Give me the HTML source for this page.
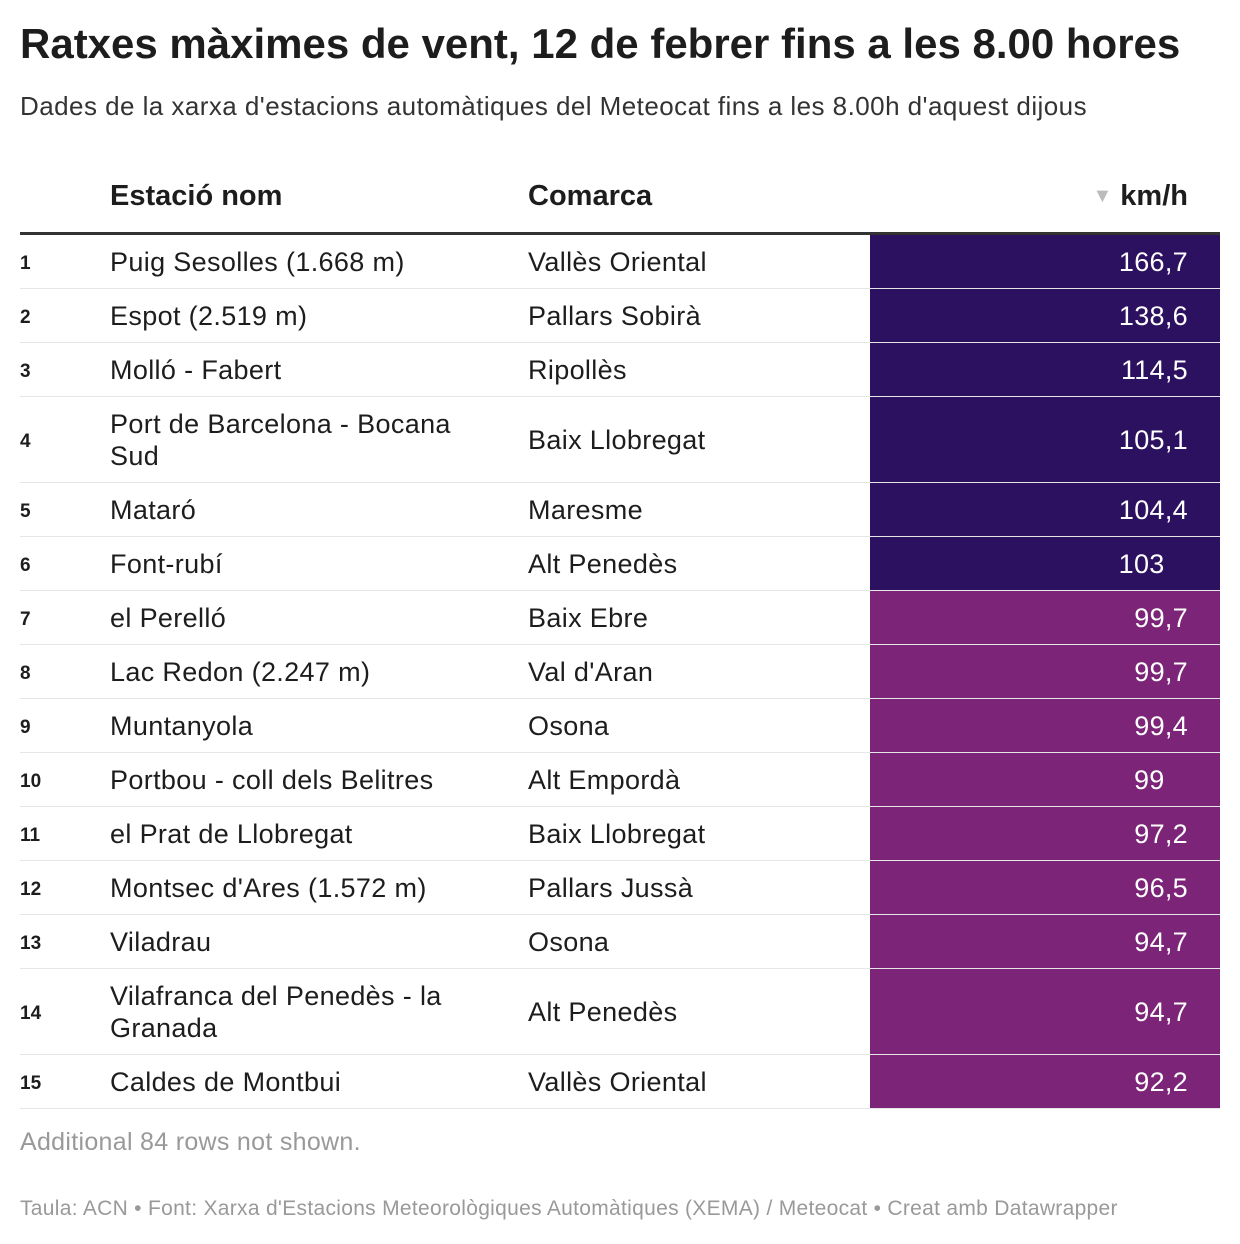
<!DOCTYPE html><html><head><meta charset="utf-8"><style>
body{margin:0;width:1240px;height:1244px;background:#fff;font-family:"Liberation Sans",Arial,sans-serif;color:#1d1d1d;position:relative;overflow:hidden}
.a{position:absolute;white-space:nowrap}
h1{position:absolute;left:20px;top:20px;margin:0;font-size:42px;font-weight:bold;letter-spacing:0px}
.sub{left:20px;top:91px;font-size:26px;letter-spacing:0.45px;color:#333}
.hd{top:180px;font-size:29px;font-weight:bold}
.row{position:absolute;left:20px;width:1200px;border-bottom:1px solid #e6e6e6;box-sizing:border-box}
.row .n{position:absolute;left:0;font-size:19px;font-weight:bold}
.row .s{position:absolute;left:90px;font-size:27px;letter-spacing:0.35px;line-height:32px;width:360px;white-space:normal}
.row .c{position:absolute;left:508px;font-size:27px;letter-spacing:0.35px}
.row .v{position:absolute;left:850px;width:350px;height:100%;box-sizing:border-box;padding-right:32px;text-align:right;color:#fff;font-size:27px;letter-spacing:0.3px}
</style></head><body>
<h1>Ratxes màximes de vent, 12 de febrer fins a les 8.00 hores</h1>
<div class="a sub">Dades de la xarxa d'estacions automàtiques del Meteocat fins a les 8.00h d'aquest dijous</div>
<div class="a hd" style="left:110px">Estació nom</div>
<div class="a hd" style="left:528px">Comarca</div>
<div class="a hd" style="right:52px"><span style="color:#bbb;font-size:20px;vertical-align:3px">▼</span> km/h</div>
<div class="a" style="left:20px;top:232px;width:1200px;height:3px;background:#333"></div>
<div id="t"></div>
<div class="a" style="left:20px;top:1128px;font-size:25px;letter-spacing:0.3px;color:#999">Additional 84 rows not shown.</div>
<div class="a" style="left:20px;top:1197px;font-size:21px;letter-spacing:0.3px;color:#999">Taula: ACN • Font: Xarxa d'Estacions Meteorològiques Automàtiques (XEMA) / Meteocat • Creat amb Datawrapper</div>
<script>
var d=[["Puig Sesolles (1.668 m)","Vallès Oriental","166,7"],["Espot (2.519 m)","Pallars Sobirà","138,6"],["Molló - Fabert","Ripollès","114,5"],["Port de Barcelona - Bocana Sud","Baix Llobregat","105,1"],["Mataró","Maresme","104,4"],["Font-rubí","Alt Penedès","103&nbsp;&nbsp;&nbsp;"],["el Perelló","Baix Ebre","99,7"],["Lac Redon (2.247 m)","Val d'Aran","99,7"],["Muntanyola","Osona","99,4"],["Portbou - coll dels Belitres","Alt Empordà","99&nbsp;&nbsp;&nbsp;"],["el Prat de Llobregat","Baix Llobregat","97,2"],["Montsec d'Ares (1.572 m)","Pallars Jussà","96,5"],["Viladrau","Osona","94,7"],["Vilafranca del Penedès - la Granada","Alt Penedès","94,7"],["Caldes de Montbui","Vallès Oriental","92,2"]];
var y=235,h="";
d.forEach(function(r,i){var H=(i==3||i==13)?86:54;var m=H/2;
var col=i<6?"#2c1160":"#7b2478";
h+='<div class="row" style="top:'+y+'px;height:'+H+'px"><span class="n" style="top:'+(m-9)+'px">'+(i+1)+'</span><span class="s" style="top:'+(H==54?m-16:m-32)+'px">'+r[0]+'</span><span class="c" style="top:'+(m-15)+'px">'+r[1]+'</span><div class="v" style="background:'+col+';line-height:'+H+'px">'+r[2]+'</div></div>';
y+=H;});
document.getElementById("t").innerHTML=h;
</script>
</body></html>
